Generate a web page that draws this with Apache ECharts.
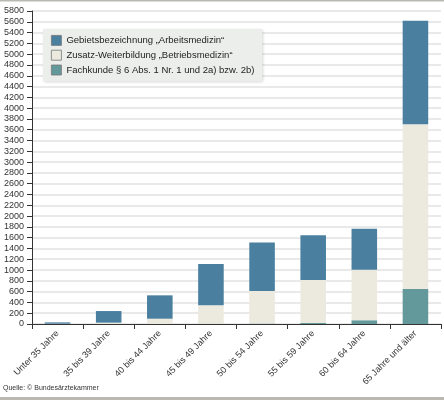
<!DOCTYPE html>
<html>
<head>
<meta charset="utf-8">
<script src="https://cdn.jsdelivr.net/npm/echarts@6/dist/echarts.min.js"></script>
<style>
  html, body { margin: 0; padding: 0; background: #fff; }
  #chart { width: 444px; height: 400px; }
</style>
</head>
<body>
<div id="chart"></div>
<script>
// Altersgruppen
var categories = ['Unter 35 Jahre', '35 bis 39 Jahre', '40 bis 44 Jahre', '45 bis 49 Jahre',
  '50 bis 54 Jahre', '55 bis 59 Jahre', '60 bis 64 Jahre', '65 Jahre und älter'];

var fachkunde = [0, 0, 0, 5, 8, 20, 70, 650];
var zusatz = [5, 25, 98, 341, 605, 795, 936, 3050];
var gebiet = [25, 215, 433, 766, 896, 828, 760, 1920];

var seriesNames = ['Gebietsbezeichnung \u201EArbeitsmedizin\u201C',
  'Zusatz-Weiterbildung \u201EBetriebsmedizin\u201C',
  'Fachkunde \u00A7 6 Abs. 1 Nr. 1 und 2a) bzw. 2b)'];

var yMax = 5800;
var yStep = 200;

var font = 'Liberation Sans, Arial, sans-serif';

var myChart = echarts.init(document.getElementById('chart'));

var option = {
  animation: false,
  textStyle: { fontFamily: font },
  grid: { left: 32, right: 3, top: 11, bottom: 76 },
  legend: {
    left: 43,
    top: 29,
    orient: 'vertical',
    data: seriesNames,
    icon: 'rect',
    itemWidth: 10,
    itemHeight: 10,
    itemGap: 4,
    padding: [6, 8, 6, 8],
    backgroundColor: '#eceeec',
    shadowColor: 'rgba(0,0,0,0.25)',
    shadowBlur: 3,
    shadowOffsetX: 1,
    shadowOffsetY: 1,
    itemStyle: { borderColor: '#777', borderWidth: 0.8 },
    textStyle: { fontSize: 9.5, color: '#222', fontFamily: font },
    selectedMode: false
  },
  xAxis: {
    type: 'category',
    data: categories,
    axisLine: { lineStyle: { color: '#333', width: 1 } },
    axisTick: { show: true, length: 5, lineStyle: { color: '#333' } },
    axisLabel: {
      rotate: 45,
      fontSize: 9,
      color: '#333',
      interval: 0,
      margin: 8
    }
  },
  yAxis: {
    type: 'value',
    min: 0,
    max: yMax,
    interval: yStep,
    axisLine: { show: true, lineStyle: { color: '#333', width: 1 } },
    axisTick: { show: true, length: 5, lineStyle: { color: '#333' } },
    axisLabel: { fontSize: 9, color: '#333', margin: 8, formatter: function (v) { return String(v); } },
    splitLine: { lineStyle: { color: '#e2e2e2', width: 1.5 } }
  },
  series: [
    {
      name: seriesNames[2], type: 'bar', stack: 'a', data: fachkunde, barWidth: '50%',
      itemStyle: { color: '#63999a' }
    },
    {
      name: seriesNames[1], type: 'bar', stack: 'a', data: zusatz, barWidth: '50%',
      itemStyle: { color: '#ece9df' }
    },
    {
      name: seriesNames[0], type: 'bar', stack: 'a', data: gebiet, barWidth: '50%',
      itemStyle: { color: '#4a7fa0' }
    }
  ],
  graphic: [
    { type: 'rect', shape: { x: 0, y: 0, width: 444, height: 1.5 }, style: { fill: '#b9b9b1' } },
    { type: 'rect', shape: { x: 0, y: 397, width: 444, height: 3 }, style: { fill: '#b9b9b1' } },
    {
      type: 'text', left: 3, top: 385,
      style: { text: 'Quelle: \u00A9 Bundes\u00E4rztekammer', fontSize: 7, fill: '#333', fontFamily: font }
    }
  ]
};

myChart.setOption(option);
</script>
</body>
</html>
